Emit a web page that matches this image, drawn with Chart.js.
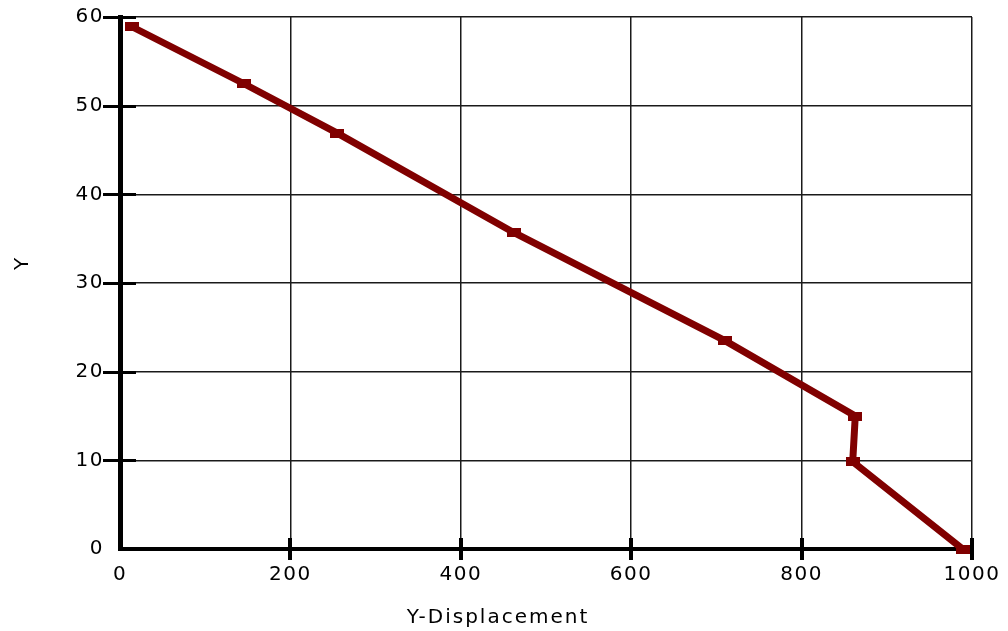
<!DOCTYPE html>
<html><head><meta charset="utf-8">
<script src="https://cdn.jsdelivr.net/npm/chart.js@4"></script>
<style>html,body{margin:0;padding:0;background:#fff;} canvas{display:block;}</style>
</head><body>
<canvas id="c" width="1008" height="631"></canvas>
<script>
const xValues = [14, 145, 255, 462, 710, 863, 860, 989];
const yValues = [58.9, 52.5, 46.9, 35.7, 23.5, 15.0, 9.85, 0];
const xTicks = [0, 200, 400, 600, 800, 1000];
const yTicks = [0, 10, 20, 30, 40, 50, 60];
const xTitle = 'Y-Displacement';
const yTitle = 'Y';

const LINE_COLOR = '#800000';
const FONT = '"DejaVu Sans", "Liberation Sans", Arial, sans-serif';
const SPACING = '1.5px';

const marker = document.createElement('canvas');
marker.width = 14; marker.height = 9;
{ const m = marker.getContext('2d'); m.fillStyle = LINE_COLOR; m.fillRect(0, 0, 14, 9); }

const points = xValues.map((x, i) => ({ x: x, y: yValues[i] }));

const spacingPlugin = {
  id: 'spacing',
  beforeInit(chart) { chart.ctx.letterSpacing = SPACING; },
  beforeDraw(chart) { chart.ctx.letterSpacing = SPACING; }
};

const axisTicks = {
  id: 'axisTicks',
  beforeDatasetsDraw(chart) {
    const ctx = chart.ctx, a = chart.chartArea;
    const xs = chart.scales.x, ys = chart.scales.y;
    ctx.save();
    ctx.strokeStyle = '#000';
    ctx.lineWidth = 3;
    yTicks.forEach(v => {
      if (v === 0) return;
      const py = Math.round(ys.getPixelForValue(v)) + 0.5;
      ctx.beginPath(); ctx.moveTo(a.left - 17, py); ctx.lineTo(a.left + 16, py); ctx.stroke();
    });
    ctx.lineWidth = 4;
    xTicks.forEach(v => {
      if (v === 0) return;
      const px = Math.round(xs.getPixelForValue(v));
      ctx.beginPath(); ctx.moveTo(px, a.bottom - 11); ctx.lineTo(px, a.bottom + 11); ctx.stroke();
    });
    ctx.restore();
  }
};

const axisTitles = {
  id: 'axisTitles',
  afterDraw(chart) {
    const ctx = chart.ctx;
    ctx.save();
    ctx.letterSpacing = '2px';
    ctx.fillStyle = '#000';
    ctx.font = '20px ' + FONT;
    ctx.textAlign = 'center';
    ctx.textBaseline = 'middle';
    ctx.fillText(xTitle, 498, 618);
    ctx.translate(23, 263);
    ctx.rotate(-Math.PI / 2);
    ctx.fillText(yTitle, 0, 0);
    ctx.restore();
  }
};

new Chart(document.getElementById('c'), {
  type: 'scatter',
  data: {
    datasets: [{
      data: points,
      showLine: true,
      borderColor: LINE_COLOR,
      backgroundColor: LINE_COLOR,
      borderWidth: 7,
      borderJoinStyle: 'miter',
      borderCapStyle: 'butt',
      tension: 0,
      pointStyle: marker,
      pointRadius: 6,
      clip: false
    }]
  },
  options: {
    responsive: false,
    animation: false,
    devicePixelRatio: 1,
    layout: { padding: { left: 0, top: 17, right: 36, bottom: 0 } },
    plugins: { legend: { display: false }, tooltip: { enabled: false } },
    scales: {
      x: {
        type: 'linear', position: 'bottom', min: 0, max: 1000,
        afterBuildTicks: s => { s.ticks = xTicks.map(v => ({ value: v })); },
        afterFit: s => { s.height = 82; s.paddingLeft = 0; s.paddingRight = 0; s.paddingTop = 0; s.paddingBottom = 0; },
        ticks: { color: '#000', font: { family: FONT, size: 20 }, padding: 14, maxRotation: 0, autoSkip: false,
                 callback: v => String(v) },
        grid: { color: '#1a1a1a', lineWidth: 1.5, drawTicks: false },
        border: { display: true, color: '#000', width: 4 }
      },
      y: {
        type: 'linear', position: 'left', min: 0, max: 60,
        afterBuildTicks: s => { s.ticks = yTicks.map(v => ({ value: v })); },
        afterFit: s => { s.width = 120; s.paddingLeft = 0; s.paddingRight = 0; s.paddingTop = 0; s.paddingBottom = 0; },
        ticks: { color: '#000', font: { family: FONT, size: 20 }, padding: 16, autoSkip: false,
                 callback: v => String(v) },
        grid: { color: '#1a1a1a', lineWidth: 1.5, drawTicks: false },
        border: { display: true, color: '#000', width: 5 }
      }
    }
  },
  plugins: [spacingPlugin, axisTicks, axisTitles]
});
</script>
</body></html>
